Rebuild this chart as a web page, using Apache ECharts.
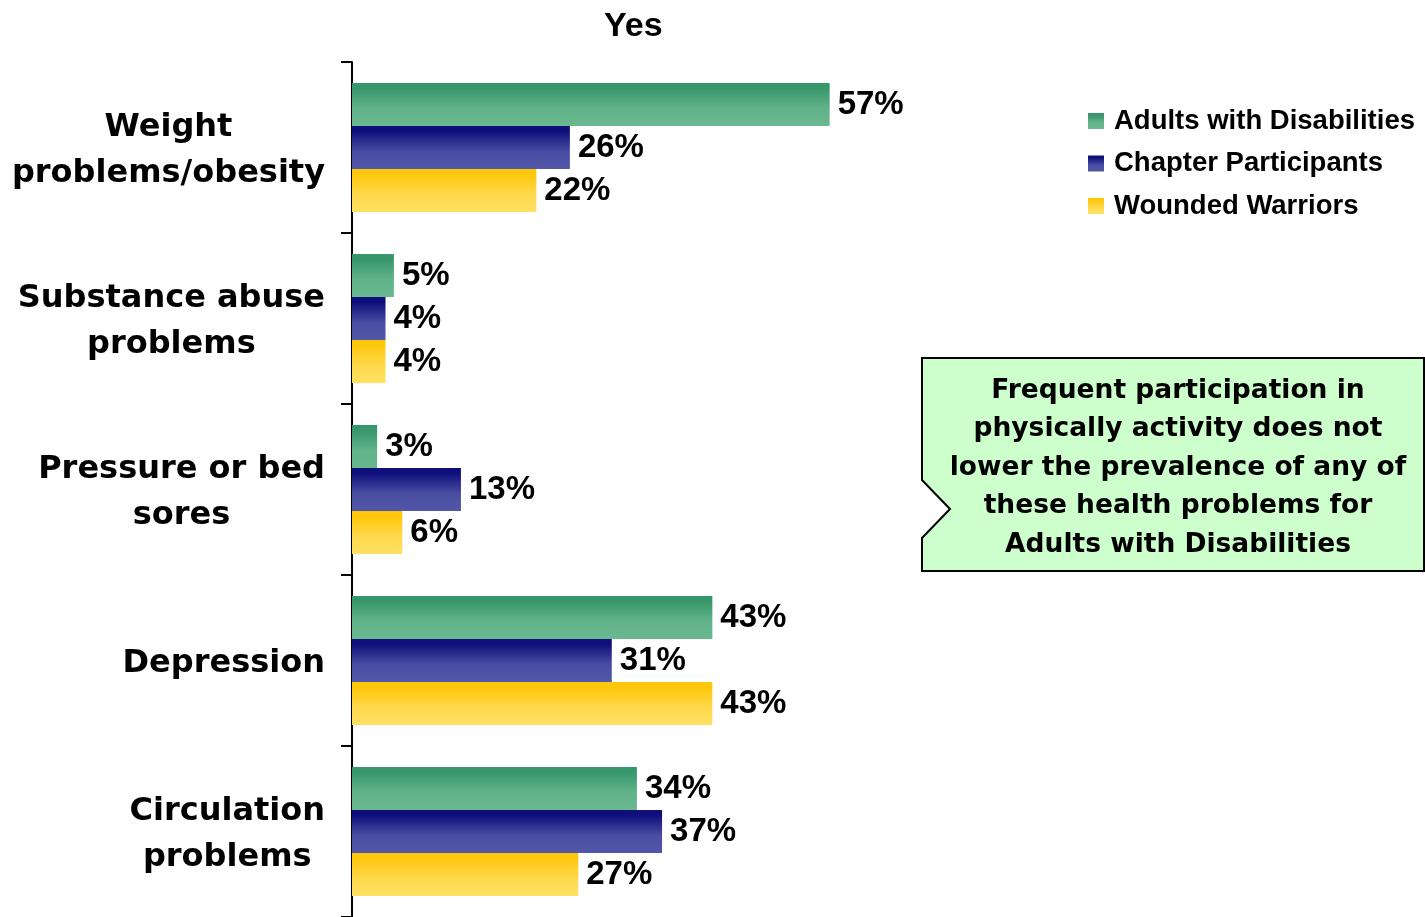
<!DOCTYPE html>
<html>
<head>
<meta charset="utf-8">
<title>Yes</title>
<script src="https://cdn.jsdelivr.net/npm/echarts@6/dist/echarts.min.js"></script>
<style>
  html, body { margin: 0; padding: 0; background: #ffffff; }
  #chart { width: 1425px; height: 917px; }
</style>
</head>
<body>
<div id="chart"></div>
<script>
// Health problems reported ("Yes"), by participant group
const categories = [
  'Weight\nproblems/obesity',
  'Substance abuse\nproblems',
  'Pressure or bed\nsores',
  'Depression',
  'Circulation\nproblems'
];
const seriesNames = ['Adults with Disabilities', 'Chapter Participants', 'Wounded Warriors'];
const adultsWithDisabilities = [57, 5, 3, 43, 34];
const chapterParticipants = [26, 4, 13, 31, 37];
const woundedWarriors = [22, 4, 6, 43, 27];
const calloutText = 'Frequent participation in\nphysically activity does not\nlower the prevalence of any of\nthese health problems for\nAdults with Disabilities';

const ARIAL = '"Liberation Sans", Arial, sans-serif';
const WIDE = '"DejaVu Sans", Verdana, sans-serif';

function vGradient(top, mid, bottom) {
  return {
    type: 'linear', x: 0, y: 0, x2: 0, y2: 1,
    colorStops: [
      { offset: 0, color: top },
      { offset: 0.12, color: top },
      { offset: 0.6, color: mid },
      { offset: 1, color: bottom }
    ]
  };
}
const fills = [
  vGradient('#37976a', '#62b28a', '#69b88f'),
  vGradient('#0f0f7c', '#4a4ea2', '#5357a9'),
  vGradient('#ffc70b', '#ffd94d', '#ffe163')
];
const seriesData = [adultsWithDisabilities, chapterParticipants, woundedWarriors];

const chart = echarts.init(document.getElementById('chart'));

chart.setOption({
  backgroundColor: '#ffffff',
  animation: false,
  title: {
    text: 'Yes',
    left: 599,
    top: 5,
    textStyle: { fontFamily: ARIAL, fontSize: 34, fontWeight: 'bold', color: '#000' }
  },
  legend: {
    orient: 'vertical',
    left: 1088,
    top: 106,
    padding: 0,
    itemWidth: 16,
    itemHeight: 16,
    itemGap: 12.5,
    icon: 'rect',
    data: seriesNames,
    textStyle: {
      fontFamily: ARIAL, fontSize: 27.5, fontWeight: 'bold', color: '#000',
      lineHeight: 30, padding: [0, 0, 0, 5]
    }
  },
  grid: { left: 352, top: 62, width: 838, bottom: 0, containLabel: false },
  xAxis: {
    type: 'value', min: 0, max: 100, show: false,
    splitLine: { show: false }
  },
  yAxis: {
    type: 'category',
    inverse: true,
    data: categories,
    axisLine: { show: true, lineStyle: { color: '#000', width: 2 } },
    axisTick: { show: true, inside: false, length: 11, lineStyle: { color: '#000', width: 2 } },
    axisLabel: {
      margin: 27,
      align: 'right',
      padding: [7, 0, 0, 0],
      formatter: function (v) {
        return v.split('\n').map(function (line) { return '{c|' + line + '}'; }).join('\n');
      },
      rich: {
        c: {
          align: 'center',
          fontFamily: WIDE, fontSize: 32, fontWeight: 'bold', color: '#000',
          lineHeight: 46
        }
      }
    },
    splitLine: { show: false }
  },
  series: seriesNames.map(function (name, i) {
    return {
      name: name,
      type: 'bar',
      data: seriesData[i],
      barGap: '0%',
      barCategoryGap: '24.5%',
      itemStyle: { color: fills[i] },
      label: {
        show: true,
        position: 'right',
        distance: 8,
        formatter: '{c}%',
        fontFamily: ARIAL, fontSize: 33, fontWeight: 'bold', color: '#000'
      }
    };
  }),
  graphic: [
    {
      type: 'polygon',
      z: 10,
      shape: {
        points: [[922, 358], [1424, 358], [1424, 571], [922, 571], [922, 538], [950, 509], [922, 480]]
      },
      style: { fill: '#ccffcc', stroke: '#000', lineWidth: 2 }
    },
    {
      type: 'text',
      z: 11,
      x: 1178,
      y: 468,
      style: {
        text: calloutText,
        align: 'center',
        verticalAlign: 'middle',
        fontFamily: WIDE, fontSize: 26.5, fontWeight: 'bold', fill: '#000',
        lineHeight: 38.5
      }
    }
  ]
});
</script>
</body>
</html>
